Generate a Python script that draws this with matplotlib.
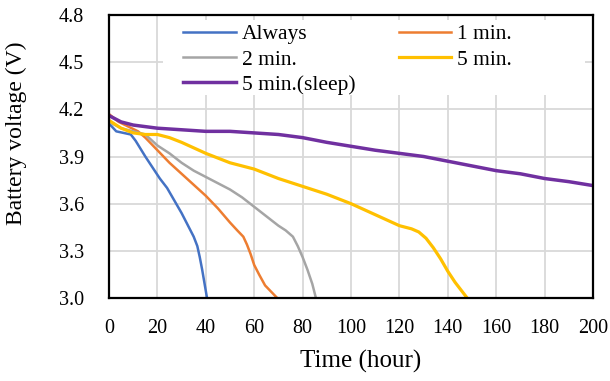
import numpy as np
import matplotlib
matplotlib.use("Agg")
import matplotlib.pyplot as plt
import matplotlib.patches as patches

plt.rcParams['font.family'] = ['Liberation Serif', 'DejaVu Serif']

# data (hours, volts)
always_t = [0, 3, 6, 9, 11, 13, 15, 18, 21, 24, 27, 30, 33, 35, 36.5, 37.5, 38.5, 39.5, 40.5]
always_v = [4.11, 4.06, 4.05, 4.04, 4.0, 3.95, 3.9, 3.83, 3.76, 3.70, 3.62, 3.54, 3.45, 3.39, 3.33, 3.26, 3.18, 3.09, 3.0]

min1_t = [0, 4, 8, 12, 15, 20, 25, 30, 35, 40, 45, 50, 53, 55.5, 57, 58.5, 60, 62, 64.5, 67, 69.5]
min1_v = [4.17, 4.12, 4.09, 4.06, 4.02, 3.94, 3.86, 3.79, 3.72, 3.65, 3.57, 3.48, 3.43, 3.39, 3.34, 3.28, 3.21, 3.15, 3.08, 3.04, 3.0]

min2_t = [0, 5, 10, 15, 20, 25, 30, 35, 40, 45, 50, 55, 60, 65, 70, 73, 76, 78, 80, 82, 84, 85.5]
min2_v = [4.12, 4.08, 4.06, 4.04, 3.97, 3.92, 3.86, 3.81, 3.77, 3.73, 3.69, 3.64, 3.58, 3.52, 3.46, 3.43, 3.39, 3.33, 3.26, 3.18, 3.09, 3.0]

min5_t = [0, 5, 10, 15, 20, 25, 30, 40, 50, 60, 70, 80, 90, 100, 110, 120, 125, 128, 131, 134, 137, 140, 143, 146, 148]
min5_v = [4.13, 4.08, 4.05, 4.04, 4.04, 4.02, 3.99, 3.92, 3.86, 3.82, 3.76, 3.71, 3.66, 3.60, 3.53, 3.46, 3.44, 3.42, 3.38, 3.32, 3.25, 3.17, 3.10, 3.04, 3.0]

sleep_t = [0, 5, 10, 20, 30, 40, 50, 60, 70, 80, 90, 100, 110, 120, 130, 140, 150, 160, 170, 180, 190, 200]
sleep_v = [4.16, 4.12, 4.10, 4.08, 4.07, 4.06, 4.06, 4.05, 4.04, 4.02, 3.99, 3.965, 3.94, 3.92, 3.90, 3.87, 3.84, 3.81, 3.79, 3.76, 3.74, 3.715]

x_ticks = np.arange(0, 201, 20)
y_ticks = [3.0, 3.3, 3.6, 3.9, 4.2, 4.5, 4.8]

fig = plt.figure(figsize=(6.1, 3.81), dpi=100)
ax = fig.add_axes([109/610, 1 - 298/381, 484/610, 283/381])

l1, = ax.plot(always_t, always_v, color='#4472C4', lw=1.8, label='Always')
l2, = ax.plot(min1_t, min1_v, color='#ED7D31', lw=1.8, label='1 min.')
l3, = ax.plot(min2_t, min2_v, color='#A5A5A5', lw=1.8, label='2 min.')
l4, = ax.plot(min5_t, min5_v, color='#FFC000', lw=2.3, label='5 min.')
l5, = ax.plot(sleep_t, sleep_v, color='#7030A0', lw=2.5, label='5 min.(sleep)')

ax.set_xlim(0, 200)
ax.set_ylim(3.0, 4.8)
ax.set_xticks(x_ticks)
ax.set_yticks(y_ticks)
ax.set_yticklabels(['%.1f' % v for v in y_ticks])
ax.tick_params(length=0, labelsize=14.5)
ax.tick_params(axis='y', pad=18)
ax.tick_params(axis='x', pad=15)

ax.set_axisbelow(True)
ax.grid(True, color='#D9D9D9', lw=1.3)
for s in ax.spines.values():
    s.set_linewidth(1.6)
    s.set_color('black')

# white box behind legend hides the grid
ax.add_patch(patches.Rectangle((0.112, 0.717), 0.871, 0.265, transform=ax.transAxes,
                               facecolor='white', edgecolor='none', zorder=1))

ax.legend([l1, l3, l5, l2, l4], ['Always', '2 min.', '5 min.(sleep)', '1 min.', '5 min.'],
          ncol=2, frameon=False, fontsize=15.5, loc='upper left',
          bbox_to_anchor=(0.153, 0.967), handlelength=2.45, handletextpad=0.28,
          columnspacing=2.0, labelspacing=0.24, borderaxespad=0, borderpad=0)

ax.set_xlabel('Time (hour)', fontsize=18)
ax.xaxis.set_label_coords(0.519, -0.185)
ax.set_ylabel('Battery voltage (V)', fontsize=17)
ax.yaxis.set_label_coords(-0.17, 0.583)

fig.savefig('out.png', dpi=100)
